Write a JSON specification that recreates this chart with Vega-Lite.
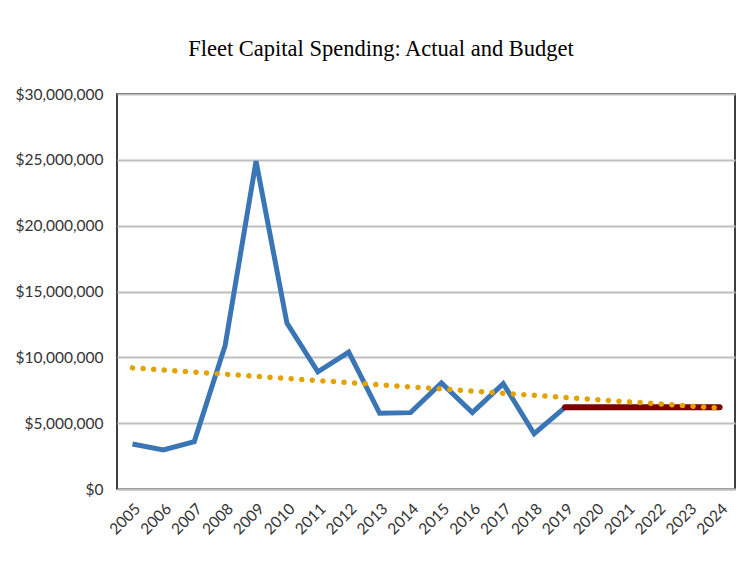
{
  "$schema": "https://vega.github.io/schema/vega-lite/v6.json",
  "autosize": {"type": "none"},
  "width": 618,
  "height": 395,
  "padding": {"left": 117, "top": 94, "right": 15, "bottom": 80},
  "background": "white",
  "title": {
    "text": "Fleet Capital Spending: Actual and Budget",
    "font": "Liberation Serif",
    "fontSize": 22.5,
    "fontWeight": "normal",
    "color": "#000000",
    "anchor": "middle",
    "frame": "group",
    "dx": -45,
    "offset": 27
  },
  "config": {
    "view": {"stroke": "#000000", "strokeWidth": 1.5},
    "axis": {
      "labelFont": "Lato",
      "labelFontSize": 15.5,
      "labelColor": "#333333",
      "ticks": false,
      "title": null
    }
  },
  "data": {
    "values": [
      {"year": "2005", "value": 3420000, "series": "Actual"},
      {"year": "2006", "value": 2960000, "series": "Actual"},
      {"year": "2007", "value": 3600000, "series": "Actual"},
      {"year": "2008", "value": 10900000, "series": "Actual"},
      {"year": "2009", "value": 24900000, "series": "Actual"},
      {"year": "2010", "value": 12600000, "series": "Actual"},
      {"year": "2011", "value": 8900000, "series": "Actual"},
      {"year": "2012", "value": 10400000, "series": "Actual"},
      {"year": "2013", "value": 5750000, "series": "Actual"},
      {"year": "2014", "value": 5800000, "series": "Actual"},
      {"year": "2015", "value": 8050000, "series": "Actual"},
      {"year": "2016", "value": 5800000, "series": "Actual"},
      {"year": "2017", "value": 8000000, "series": "Actual"},
      {"year": "2018", "value": 4200000, "series": "Actual"},
      {"year": "2019", "value": 6200000, "series": "Actual"},
      {"year": "2019", "value": 6200000, "series": "Budget"},
      {"year": "2020", "value": 6200000, "series": "Budget"},
      {"year": "2021", "value": 6200000, "series": "Budget"},
      {"year": "2022", "value": 6200000, "series": "Budget"},
      {"year": "2023", "value": 6200000, "series": "Budget"},
      {"year": "2024", "value": 6200000, "series": "Budget"},
      {"year": "2005", "value": 9200000, "series": "Trend"},
      {"year": "2024", "value": 6150000, "series": "Trend"}
    ]
  },
  "encoding": {
    "x": {
      "field": "year",
      "type": "ordinal",
      "scale": {
        "type": "point",
        "padding": 0.5,
        "domain": ["2005","2006","2007","2008","2009","2010","2011","2012","2013","2014","2015","2016","2017","2018","2019","2020","2021","2022","2023","2024"]
      },
      "axis": {
        "labelAngle": -45,
        "labelAlign": "right",
        "labelBaseline": "top",
        "labelPadding": 12,
        "domainColor": "#BFBFBF",
        "domainWidth": 2,
        "grid": false
      }
    },
    "y": {
      "field": "value",
      "type": "quantitative",
      "scale": {"domain": [0, 30000000], "nice": false},
      "axis": {
        "values": [0, 5000000, 10000000, 15000000, 20000000, 25000000, 30000000],
        "format": "$,.0f",
        "domain": false,
        "grid": true,
        "gridColor": "#BFBFBF",
        "gridWidth": 2,
        "labelPadding": 14
      }
    }
  },
  "layer": [
    {
      "transform": [{"filter": "datum.series === 'Actual'"}],
      "mark": {"type": "line", "color": "#3A75B5", "strokeWidth": 5, "strokeJoin": "miter", "strokeCap": "butt"}
    },
    {
      "transform": [{"filter": "datum.series === 'Budget'"}],
      "mark": {"type": "line", "color": "#7B0000", "strokeWidth": 6, "strokeCap": "round"}
    },
    {
      "transform": [{"filter": "datum.series === 'Trend'"}],
      "mark": {"type": "line", "color": "#E3A200", "strokeWidth": 5.5, "strokeCap": "round", "strokeDash": [0.1, 10.5]}
    }
  ]
}
